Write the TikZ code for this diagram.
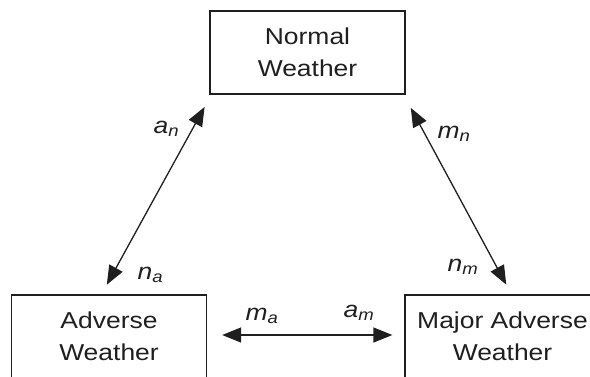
\documentclass[tikz,border=0pt]{standalone}
\usepackage{fontspec}
\setmainfont{Liberation Sans}[FakeStretch=1.15]
\usetikzlibrary{arrows.meta}
\definecolor{ink}{gray}{0.12}
\begin{document}
\begin{tikzpicture}[x=1pt,y=-1pt,>={Triangle[length=19pt,width=15pt]},line width=1.3pt,
  statebox/.style={draw=ink,text=ink,minimum width=195pt,minimum height=83pt,align=center,
    font=\fontsize{23}{32}\selectfont},
  rate/.style={anchor=base west,inner sep=0pt,text=ink,font=\fontsize{23}{32}\selectfont\itshape}]
\useasboundingbox (0,0) rectangle (590,376);
\node[statebox] (normal) at (307.5,52.5) {Normal\\Weather};
\node[statebox] (adverse) at (109,336.5) {Adverse\\Weather};
\node[statebox] (major) at (502.5,336.5) {Major Adverse\\Weather};
\draw[<->,draw=ink,shorten <=11pt,shorten >=14pt] ([xshift=-7.5pt]adverse.north) -- ([xshift=2pt]normal.south west);
\draw[<->,draw=ink,shorten <=15pt,shorten >=11pt] ([xshift=-2pt]normal.south east) -- ([xshift=9pt]major.north);
\draw[<->,draw=ink,shorten <=15pt,shorten >=12pt] ([yshift=1.5pt]adverse.east) -- ([yshift=1.5pt]major.west);
\node[rate] (an) at (153,133) {a\textsubscript{n}};
\node[rate] (na) at (137,279) {n\textsubscript{a}};
\node[rate] (mn) at (437,138) {m\textsubscript{n}};
\node[rate] (nm) at (447,271) {n\textsubscript{m}};
\node[rate] (ma) at (245,320) {m\textsubscript{a}};
\node[rate] (am) at (343,317) {a\textsubscript{m}};
\end{tikzpicture}
\end{document}
